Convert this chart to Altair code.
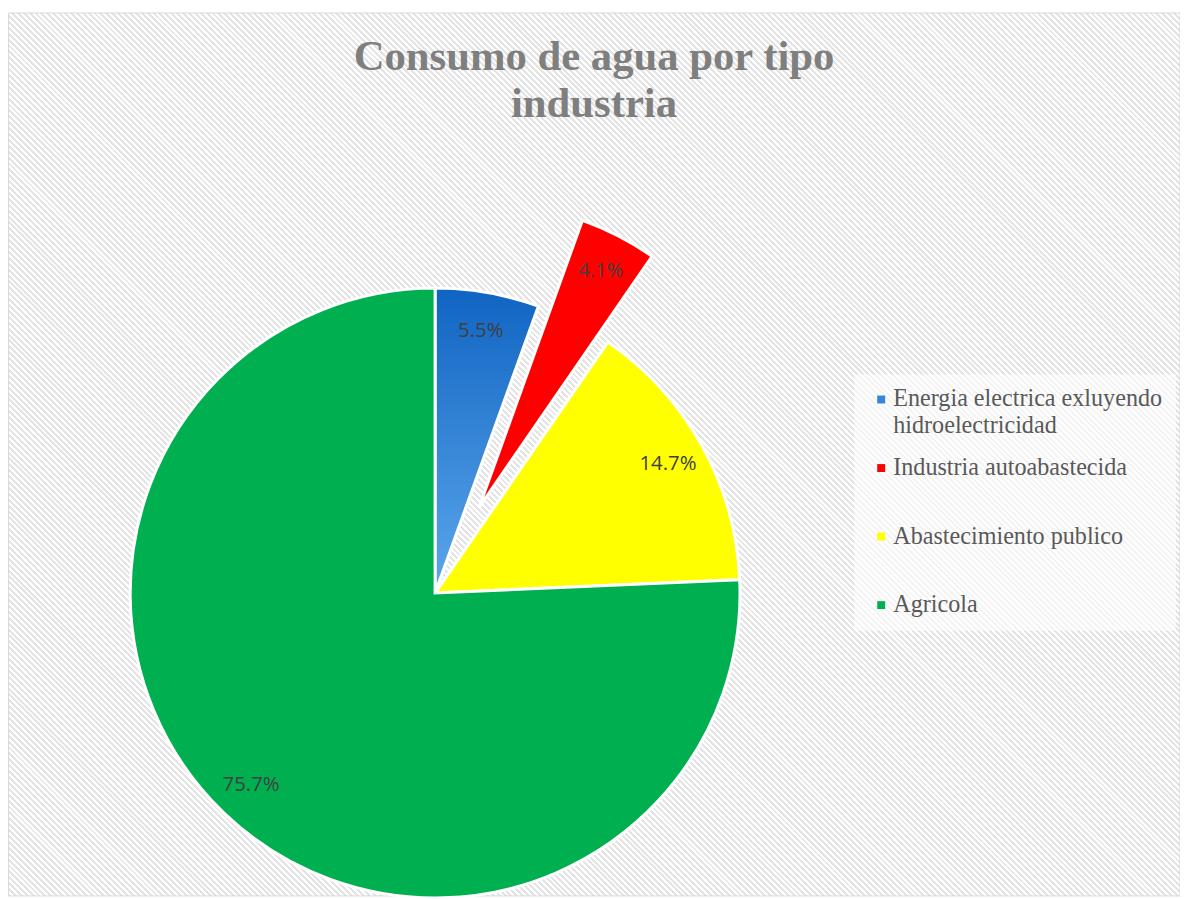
import math
import altair as alt
import pandas as pd

# ---------------- data ----------------
categories = [
    "Energia electrica exluyendo hidroelectricidad",
    "Industria autoabastecida",
    "Abastecimiento publico",
    "Agricola",
]
shares = [5.5, 4.1, 14.7, 75.7]
order_idx = [0, 1, 2, 3]
legend_colors = ["#3485db", "#ff0000", "#ffff00", "#00b050"]
title_lines = ["Consumo de agua por tipo", "industria"]
exploded_category = "Industria autoabastecida"

df = pd.DataFrame({"cat": categories, "share": shares, "idx": order_idx})

# ---------------- layout / style ----------------
SVG_W, SVG_H = 1180, 891
PAD_TOP = 130
VIEW_W, VIEW_H = SVG_W, SVG_H - PAD_TOP
CX, CY = 430, 586 - PAD_TOP
R = 307
LABEL_R = 268
EXPLODE_PX = 97

# offset for exploded slice, along its mid angle
i_exp = categories.index(exploded_category)
total = sum(shares)
mid_frac = (sum(shares[:i_exp]) + shares[i_exp] / 2) / total
ang = 2 * math.pi * mid_frac
DX = EXPLODE_PX * math.sin(ang)
DY = -EXPLODE_PX * math.cos(ang)

# striped background via hard-stop gradient (45 degree "\" stripes)
BG_X0, BG_Y0 = 0.5, -PAD_TOP + 2
BG_W, BG_H = VIEW_W - BG_X0, VIEW_H - BG_Y0
rr = BG_H / BG_W
kk = (1 + rr) / (1 + rr * rr)
L = (BG_W + BG_H) / math.sqrt(2)
PERIOD = 4.2
STRIPE = "#e4e4e4"
stops = []
n = int(L / PERIOD) + 1
for i in range(n):
    a = min(i * PERIOD / L, 1)
    b = min((i + 0.5) * PERIOD / L, 1)
    c = min((i + 1) * PERIOD / L, 1)
    stops += [
        {"offset": a, "color": STRIPE},
        {"offset": b, "color": STRIPE},
        {"offset": b, "color": "#ffffff"},
        {"offset": c, "color": "#ffffff"},
    ]
stripes = {"gradient": "linear", "x1": 0, "y1": 1, "x2": kk, "y2": 1 - kk * rr, "stops": stops}

blue_grad = {
    "gradient": "linear", "x1": 0, "y1": 0, "x2": 0, "y2": 1,
    "stops": [{"offset": 0, "color": "#1064c2"}, {"offset": 1, "color": "#5ca7ec"}],
}

bg = alt.Chart(alt.Data(values=[{}])).mark_rect(stroke="#d9d9d9", strokeWidth=1).encode(
    x=alt.value(BG_X0), x2=alt.value(VIEW_W), y=alt.value(BG_Y0), y2=alt.value(VIEW_H),
    color=alt.value(stripes),
)

legend = alt.Legend(
    title=None, orient="none", legendX=852, legendY=236, direction="vertical",
    symbolType="square", symbolSize=64, symbolStrokeWidth=0, symbolOffset=2,
    labelFont="Liberation Serif", labelFontSize=24.3, labelColor="#595959",
    labelLimit=500, labelOffset=0, rowPadding=18, gridAlign="all",
    fillColor="rgba(255,255,255,0.6)", padding=13,
    labelExpr="datum.label == 'Energia electrica exluyendo hidroelectricidad' ? ['Energia electrica exluyendo', 'hidroelectricidad'] : datum.label",
)

color_enc = alt.condition(
    alt.datum.cat == categories[0],
    alt.value(blue_grad),
    alt.Color("cat:N", scale=alt.Scale(domain=categories, range=legend_colors), legend=legend),
)

base = alt.Chart(df).transform_calculate(
    label="format(datum.share, '.1f') + '%'"
)

is_exp = alt.datum.cat == exploded_category

arcs = base.mark_arc(radius=R, stroke="white", strokeWidth=3).encode(
    theta=alt.Theta("share:Q", stack=True),
    order=alt.Order("idx:Q"),
    x=alt.value(CX), y=alt.value(CY),
    color=color_enc,
    opacity=alt.condition(is_exp, alt.value(0), alt.value(1)),
)
arcs_exp = base.mark_arc(radius=R, stroke="white", strokeWidth=3, xOffset=DX, yOffset=DY).encode(
    theta=alt.Theta("share:Q", stack=True),
    order=alt.Order("idx:Q"),
    x=alt.value(CX), y=alt.value(CY),
    color=color_enc,
    opacity=alt.condition(is_exp, alt.value(1), alt.value(0)),
)

text_props = dict(radius=LABEL_R, font="Open Sans", fontSize=20.5, color="#404040",
                  align="center", baseline="middle")
labels = base.mark_text(**text_props).encode(
    theta=alt.Theta("share:Q", stack=True),
    order=alt.Order("idx:Q"),
    detail="cat:N",
    x=alt.value(CX), y=alt.value(CY),
    text="label:N",
    opacity=alt.condition(is_exp, alt.value(0), alt.value(1)),
)
labels_exp = base.mark_text(xOffset=DX, yOffset=DY, **text_props).encode(
    theta=alt.Theta("share:Q", stack=True),
    order=alt.Order("idx:Q"),
    detail="cat:N",
    x=alt.value(CX), y=alt.value(CY),
    text="label:N",
    opacity=alt.condition(is_exp, alt.value(1), alt.value(0)),
)

chart = alt.layer(bg, arcs, arcs_exp, labels, labels_exp).properties(
    width=VIEW_W, height=VIEW_H,
    title=alt.TitleParams(
        text=title_lines, font="Liberation Serif", fontSize=43, fontWeight="bold",
        color="#7f7f7f", lineHeight=47, anchor="middle", offset=-114,
    ),
    autosize=alt.AutoSizeParams(type="none"),
    padding={"left": 0, "top": PAD_TOP, "right": 0, "bottom": 0},
).configure(background="white").configure_view(stroke=None)

chart.save("out.html", embed_options={"renderer": "svg", "actions": False})
